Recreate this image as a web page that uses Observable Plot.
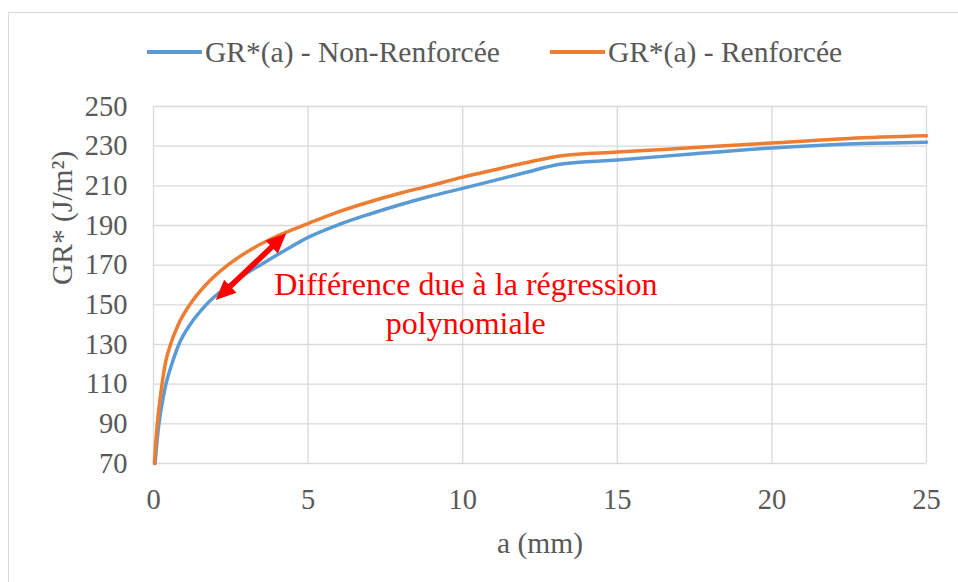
<!DOCTYPE html>
<html>
<head>
<meta charset="utf-8">
<script src="https://cdn.jsdelivr.net/npm/d3@7"></script>
<script src="https://cdn.jsdelivr.net/npm/@observablehq/plot@0.6"></script>
<style>
  html, body { margin: 0; padding: 0; background: #fff; overflow: hidden; }
  body { width: 958px; height: 582px; position: relative; font-family: "Liberation Serif", "Times New Roman", serif; }
  #frame { position: absolute; left: 8px; top: 12px; width: 1000px; height: 620px; border: 1.5px solid #d9d9d9; box-sizing: border-box; }
  #legend { position: absolute; left: 147px; top: 35px; display: flex; align-items: center; gap: 50px; color: #595959; font-size: 29.5px; line-height: 34px; white-space: nowrap; }
  .item { display: flex; align-items: center; }
  .sw { display: inline-block; width: 55px; height: 3.5px; margin-right: 3px; }
  #chart { position: absolute; left: 0; top: 80px; }
</style>
</head>
<body>
<div id="frame"></div>
<div id="legend"></div>
<div id="chart"></div>
<script>
// ---- data ----
const seriesNames = ["GR*(a) - Non-Renforcée", "GR*(a) - Renforcée"];
const seriesColors = ["#5B9BD5", "#ED7D31"];

const nonRenfA  = [0.05, 0.1, 0.16, 0.22, 0.3, 0.41, 0.6, 0.82, 1.2, 1.7, 2.5, 3.55, 4.2, 5, 6, 7, 8, 8.93, 10, 11, 12, 13.2, 15, 17.5, 20, 22.5, 25];
const nonRenfGR = [70, 79, 88, 95, 102, 110.5, 120.5, 130, 140.4, 150, 160.5, 171, 177, 184, 190.5, 195.8, 200.6, 204.6, 208.7, 212.6, 216.6, 221, 223, 226.2, 229.1, 231.1, 232];

const renfA  = [0.03, 0.07, 0.12, 0.2, 0.28, 0.4, 0.55, 0.8, 1.17, 1.7, 2.4, 3.1, 4, 5, 6, 7, 8, 8.93, 10, 11, 12, 13.2, 15, 17.5, 20, 22.5, 25];
const renfGR = [70, 80, 89.5, 101, 110.5, 121.7, 130, 140, 150, 160.2, 170, 177.4, 184.7, 191, 197, 202, 206.4, 210, 214.4, 218, 221.5, 225.2, 227, 229.3, 231.6, 233.9, 235.2];

const xTicks = [0, 5, 10, 15, 20, 25];
const yTicks = [70, 90, 110, 130, 150, 170, 190, 210, 230, 250];
const xTitle = ["a (mm)"];
const yTitle = ["GR* (J/m²)"];

const annotationText = ["Différence due à la régression\npolynomiale"];
const annotationA = [10.1];
const annotationGR = [151.3];
const arrowA = [2.03, 4.31];
const arrowGR = [152.2, 185.8];

// ---- build ----
const nonRenf = nonRenfA.map((a, i) => ({a, gr: nonRenfGR[i]}));
const renf = renfA.map((a, i) => ({a, gr: renfGR[i]}));
const annotation = annotationText.map((t, i) => ({t, a: annotationA[i], gr: annotationGR[i]}));

const legend = document.getElementById("legend");
seriesNames.forEach((name, i) => {
  const it = document.createElement("div");
  it.className = "item";
  const sw = document.createElement("span");
  sw.className = "sw";
  sw.style.background = seriesColors[i];
  it.appendChild(sw);
  it.appendChild(document.createTextNode(name));
  legend.appendChild(it);
});

const font = '"Liberation Serif", "Times New Roman", serif';
const grid = {stroke: "#d9d9d9", strokeOpacity: 1, strokeWidth: 1.3};

const plot = Plot.plot({
  width: 958,
  height: 502,
  marginLeft: 153,
  marginRight: 32,
  marginTop: 26,
  marginBottom: 119,
  x: {domain: [0, 25]},
  y: {domain: [70, 250]},
  style: {fontFamily: font, fontSize: "28.5px", color: "#595959", background: "transparent", overflow: "visible"},
  marks: [
    Plot.gridX(xTicks, grid),
    Plot.gridY(yTicks, grid),
    Plot.axisX(xTicks, {tickSize: 0, tickPadding: 25, label: null, fill: "#595959"}),
    Plot.axisY(yTicks, {tickSize: 0, tickPadding: 26, label: null, fill: "#595959"}),
    Plot.line(nonRenf, {x: "a", y: "gr", stroke: seriesColors[0], strokeWidth: 3.5, curve: "monotone-x"}),
    Plot.line(renf, {x: "a", y: "gr", stroke: seriesColors[1], strokeWidth: 3.5, curve: "monotone-x"}),
    Plot.text(xTitle, {frameAnchor: "bottom", dy: 80, fill: "#595959", lineAnchor: "middle", fontSize: 29.5}),
    Plot.text(yTitle, {frameAnchor: "left", rotate: -90, dx: -91, fill: "#595959", lineAnchor: "middle", fontSize: 29.5}),
    Plot.text(annotation, {x: "a", y: "gr", text: "t", fill: "#ff0000", fontSize: 32, lineHeight: 1.2, textAnchor: "middle", lineAnchor: "middle"})
  ]
});

// double-headed arrow drawn through the plot's own scales
const sx = plot.scale("x"), sy = plot.scale("y");
const X = d3.scaleLinear(sx.domain, sx.range);
const Y = d3.scaleLinear(sy.domain, sy.range);
const P = [X(arrowA[0]), Y(arrowGR[0])];
const Q = [X(arrowA[1]), Y(arrowGR[1])];
const L = Math.hypot(Q[0] - P[0], Q[1] - P[1]);
const u = [(Q[0] - P[0]) / L, (Q[1] - P[1]) / L];
const n = [-u[1], u[0]];
const h = 20, hw = 9, sw = 2.8;
const pt = (b, du, dn) => [b[0] + u[0] * du + n[0] * dn, b[1] + u[1] * du + n[1] * dn];
const poly = [
  P, pt(P, h, hw), pt(P, h, sw), pt(Q, -h, sw), pt(Q, -h, hw),
  Q, pt(Q, -h, -hw), pt(Q, -h, -sw), pt(P, h, -sw), pt(P, h, -hw)
];
d3.select(plot).append("path")
  .attr("d", "M" + poly.map(p => p.join(",")).join("L") + "Z")
  .attr("fill", "#ff0000");

document.getElementById("chart").appendChild(plot);
</script>
</body>
</html>
